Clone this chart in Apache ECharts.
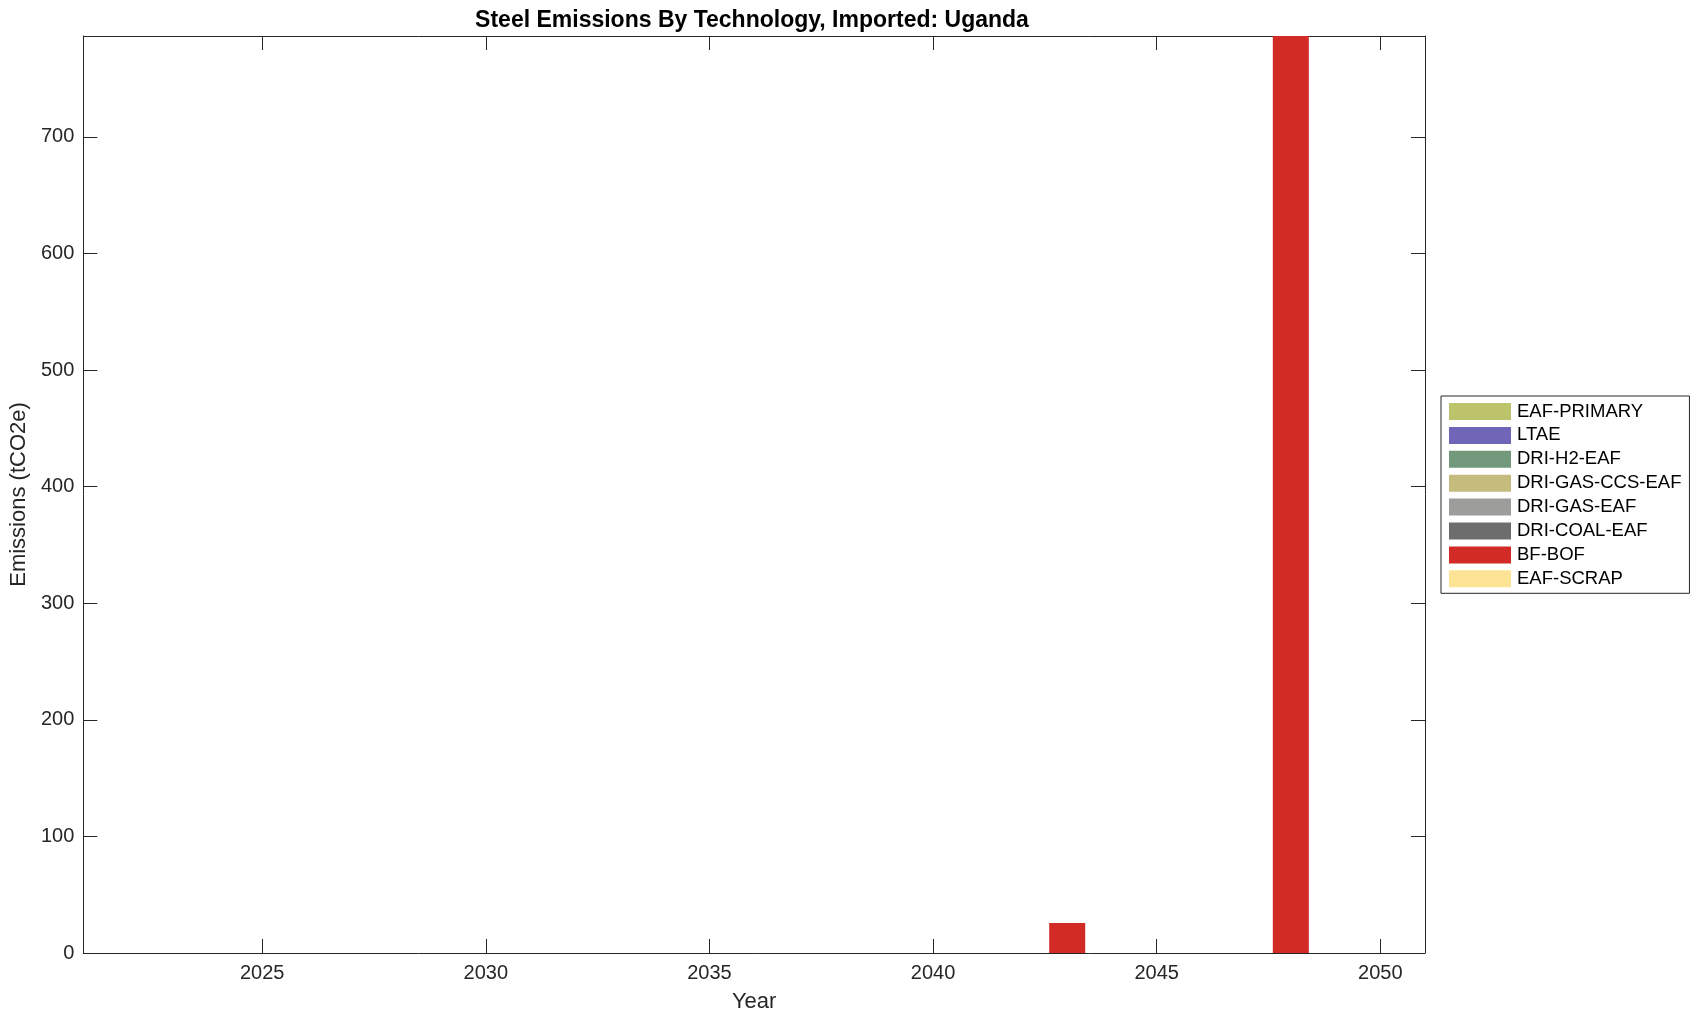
<!DOCTYPE html>
<html>
<head>
<meta charset="utf-8">
<script src="https://cdn.jsdelivr.net/npm/echarts@6/dist/echarts.min.js"></script>
<style>html,body{margin:0;padding:0;background:#fff}#c{width:1702px;height:1021px}</style>
</head>
<body>
<div id="c"></div>
<script>
var years = [2022,2023,2024,2025,2026,2027,2028,2029,2030,2031,2032,2033,2034,2035,2036,2037,2038,2039,2040,2041,2042,2043,2044,2045,2046,2047,2048,2049,2050];
var eafScrap    = [0,0,0,0,0,0,0,0,0,0,0,0,0,0,0,0,0,0,0,0,0,0,0,0,0,0,0,0,0];
var bfBof       = [0,0,0,0,0,0,0,0,0,0,0,0,0,0,0,0,0,0,0,0,0,25.7,0,0,0,0,786.6,0,0];
var driCoalEaf  = [0,0,0,0,0,0,0,0,0,0,0,0,0,0,0,0,0,0,0,0,0,0,0,0,0,0,0,0,0];
var driGasEaf   = [0,0,0,0,0,0,0,0,0,0,0,0,0,0,0,0,0,0,0,0,0,0,0,0,0,0,0,0,0];
var driGasCcsEaf= [0,0,0,0,0,0,0,0,0,0,0,0,0,0,0,0,0,0,0,0,0,0,0,0,0,0,0,0,0];
var driH2Eaf    = [0,0,0,0,0,0,0,0,0,0,0,0,0,0,0,0,0,0,0,0,0,0,0,0,0,0,0,0,0];
var ltae        = [0,0,0,0,0,0,0,0,0,0,0,0,0,0,0,0,0,0,0,0,0,0,0,0,0,0,0,0,0];
var eafPrimary  = [0,0,0,0,0,0,0,0,0,0,0,0,0,0,0,0,0,0,0,0,0,0,0,0,0,0,0,0,0];
var xTicks = [2025,2030,2035,2040,2045,2050];
var yTicks = [0,100,200,300,400,500,600,700];
var xMin = 2021, xMax = 2051, yMin = 0, yMax = 786.6;
var legendOrder = ['EAF-PRIMARY','LTAE','DRI-H2-EAF','DRI-GAS-CCS-EAF','DRI-GAS-EAF','DRI-COAL-EAF','BF-BOF','EAF-SCRAP'];

var seriesDefs = [
  {name:'EAF-SCRAP', data:eafScrap, color:'#fde394'},
  {name:'BF-BOF', data:bfBof, color:'#d22b26'},
  {name:'DRI-COAL-EAF', data:driCoalEaf, color:'#6d6d6d'},
  {name:'DRI-GAS-EAF', data:driGasEaf, color:'#9d9d9b'},
  {name:'DRI-GAS-CCS-EAF', data:driGasCcsEaf, color:'#c4bb7c'},
  {name:'DRI-H2-EAF', data:driH2Eaf, color:'#72997b'},
  {name:'LTAE', data:ltae, color:'#7066b8'},
  {name:'EAF-PRIMARY', data:eafPrimary, color:'#bdc36b'}
];

var FONT = "'Liberation Sans', Arial, Helvetica, sans-serif";
var AX = '#262626';

var chart = echarts.init(document.getElementById('c'));
var axisCommonX = {
  type:'value', min:xMin, max:xMax,
  axisLine:{show:true, onZero:false, lineStyle:{color:AX, width:1}},
  splitLine:{show:false}
};
var axisCommonY = {
  type:'value', min:yMin, max:yMax,
  axisLine:{show:true, onZero:false, lineStyle:{color:AX, width:1}},
  splitLine:{show:false}
};
chart.setOption({
  animation:false,
  backgroundColor:'#fff',
  title:{
    text:'Steel Emissions By Technology, Imported: Uganda',
    left:752, top:9, textAlign:'center', padding:0,
    textStyle:{fontFamily:FONT, fontSize:23, fontWeight:'bold', color:'#000'}
  },
  grid:{left:82, top:36, right:277, bottom:68, containLabel:false},
  legend:{
    data:legendOrder, orient:'vertical', left:1441, top:396,
    icon:'rect', itemWidth:62, itemHeight:17, itemGap:4.9,
    padding:[6,8,5,8], borderColor:AX, borderWidth:1, backgroundColor:'#fff',
    textStyle:{fontFamily:FONT, fontSize:18.5, color:'#000', padding:[0,0,0,1]},
    selectedMode:false
  },
  xAxis:[
    Object.assign({}, axisCommonX, {
      position:'bottom',
      name:'Year', nameLocation:'middle', nameGap:38,
      nameTextStyle:{fontFamily:FONT, fontSize:22, color:AX},
      axisTick:{show:true, inside:true, length:14, customValues:xTicks, lineStyle:{color:AX}},
      axisLabel:{show:true, margin:10, customValues:xTicks, fontFamily:FONT, fontSize:20, color:AX,
        formatter:function(v){ return String(v); }}
    }),
    Object.assign({}, axisCommonX, {
      position:'top',
      axisTick:{show:true, inside:true, length:14, customValues:xTicks, lineStyle:{color:AX}},
      axisLabel:{show:false}
    })
  ],
  yAxis:[
    Object.assign({}, axisCommonY, {
      position:'left',
      name:'Emissions (tCO2e)', nameLocation:'middle', nameGap:52,
      nameTextStyle:{fontFamily:FONT, fontSize:22, color:AX},
      axisTick:{show:true, inside:true, length:14, customValues:yTicks, lineStyle:{color:AX}},
      axisLabel:{show:true, margin:9, customValues:yTicks, fontFamily:FONT, fontSize:20, color:AX,
        formatter:function(v){ return String(v); }}
    }),
    Object.assign({}, axisCommonY, {
      position:'right',
      axisTick:{show:true, inside:true, length:14, customValues:yTicks, lineStyle:{color:AX}},
      axisLabel:{show:false}
    })
  ],
  series: seriesDefs.map(function(s){
    return {
      name:s.name, type:'bar', stack:'total', xAxisIndex:0, yAxisIndex:0,
      barWidth:36,
      itemStyle:{color:s.color},
      data: years.map(function(y,i){ return [y, s.data[i]]; })
    };
  })
});
</script>
</body>
</html>
